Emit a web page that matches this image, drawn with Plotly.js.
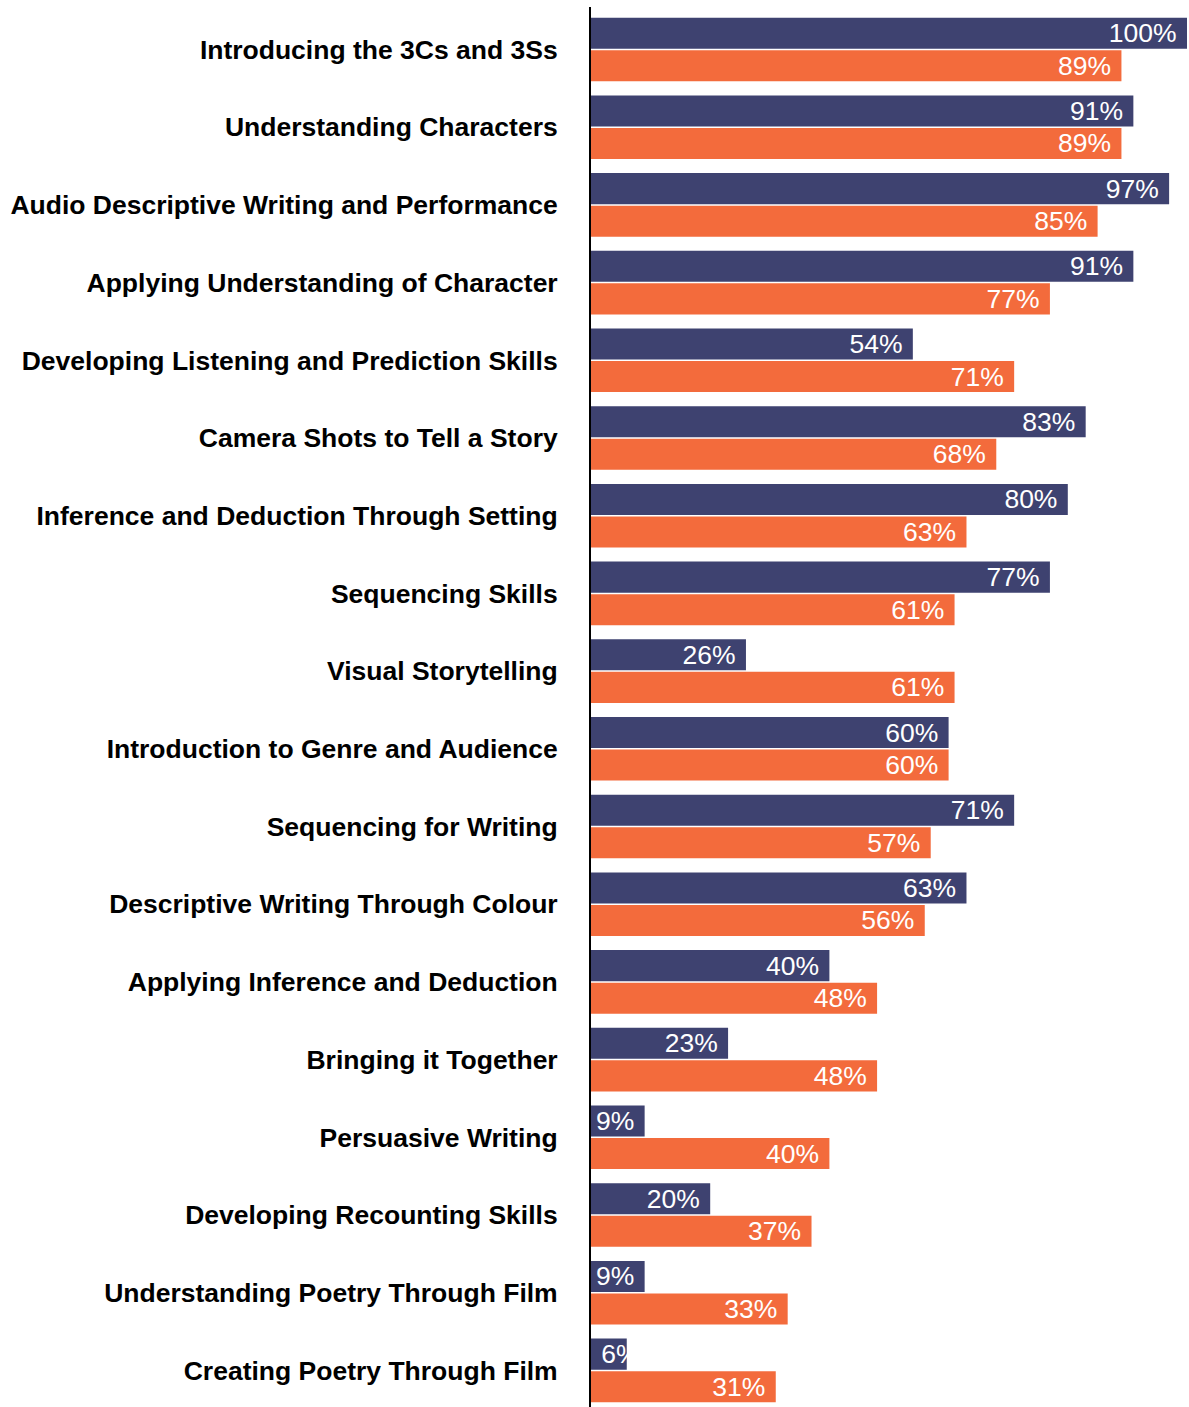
<!DOCTYPE html>
<html>
<head>
<meta charset="utf-8">
<script src="https://cdn.plot.ly/plotly-3.0.1.min.js"></script>
<style>html,body{margin:0;padding:0;background:#fff;}#chart{width:1189px;height:1407px;}</style>
</head>
<body>
<div id="chart"></div>
<script>
const categories = [
  "Introducing the 3Cs and 3Ss",
  "Understanding Characters",
  "Audio Descriptive Writing and Performance",
  "Applying Understanding of Character",
  "Developing Listening and Prediction Skills",
  "Camera Shots to Tell a Story",
  "Inference and Deduction Through Setting",
  "Sequencing Skills",
  "Visual Storytelling",
  "Introduction to Genre and Audience",
  "Sequencing for Writing",
  "Descriptive Writing Through Colour",
  "Applying Inference and Deduction",
  "Bringing it Together",
  "Persuasive Writing",
  "Developing Recounting Skills",
  "Understanding Poetry Through Film",
  "Creating Poetry Through Film"
];
const seriesA = [100, 91, 97, 91, 54, 83, 80, 77, 26, 60, 71, 63, 40, 23, 9, 20, 9, 6];
const seriesB = [89, 89, 85, 77, 71, 68, 63, 61, 61, 60, 57, 56, 48, 48, 40, 37, 33, 31];

const NAVY = "#3e4270";
const ORANGE = "#f36b3c";
const FIT_MIN = 8; // values below this cannot hold their label at the bar end
const labelOf = v => v + "%\u00a0";
const TEXTFONT = {family: "Liberation Sans, Arial, sans-serif", size: 26.5, color: "#ffffff"};

function barTrace(name, values, color, group) {
  return {
    type: "bar",
    orientation: "h",
    name: name,
    offsetgroup: group,
    y: categories,
    x: values,
    text: values.map(v => v < FIT_MIN ? "" : labelOf(v)),
    textposition: "inside",
    insidetextanchor: "end",
    constraintext: "none",
    textangle: 0,
    textfont: TEXTFONT,
    marker: {color: color, line: {width: 0}},
    hoverinfo: "skip"
  };
}

// labels for bars too short to hold them: start-anchored, drawn over the bar
function shortLabelTrace(values, group) {
  return {
    type: "bar",
    orientation: "h",
    showlegend: false,
    offsetgroup: group,
    y: categories,
    x: values,
    text: values.map(v => v < FIT_MIN ? "\u00a0" + v + "%" : ""),
    textposition: "inside",
    insidetextanchor: "start",
    constraintext: "none",
    textangle: 0,
    textfont: TEXTFONT,
    marker: {color: "rgba(0,0,0,0)", line: {width: 0}},
    hoverinfo: "skip"
  };
}

const data = [
  barTrace("Series 1", seriesA, NAVY, "a"),
  barTrace("Series 2", seriesB, ORANGE, "b"),
  shortLabelTrace(seriesA, "a")
];

const layout = {
  width: 1189,
  height: 1407,
  margin: {l: 591, r: 2, t: 7, b: 0, pad: 0},
  paper_bgcolor: "#ffffff",
  plot_bgcolor: "#ffffff",
  showlegend: false,
  barmode: "group",
  bargap: 0.163,
  bargroupgap: 0.045,
  xaxis: {
    range: [0, 100],
    showgrid: false,
    zeroline: false,
    showticklabels: false,
    ticks: "",
    showline: false,
    fixedrange: true
  },
  yaxis: {
    type: "category",
    range: [17.471, -0.547],
    showgrid: false,
    zeroline: false,
    showline: true,
    linecolor: "#000000",
    linewidth: 2,
    ticks: "",
    ticklabelstandoff: 26,
    tickfont: {family: "Liberation Sans, Arial, sans-serif", size: 26.5, color: "#000000", weight: "bold"},
    fixedrange: true
  },
  font: {family: "Liberation Sans, Arial, sans-serif"}
};

Plotly.newPlot("chart", data, layout, {displayModeBar: false, staticPlot: true});
</script>
</body>
</html>
